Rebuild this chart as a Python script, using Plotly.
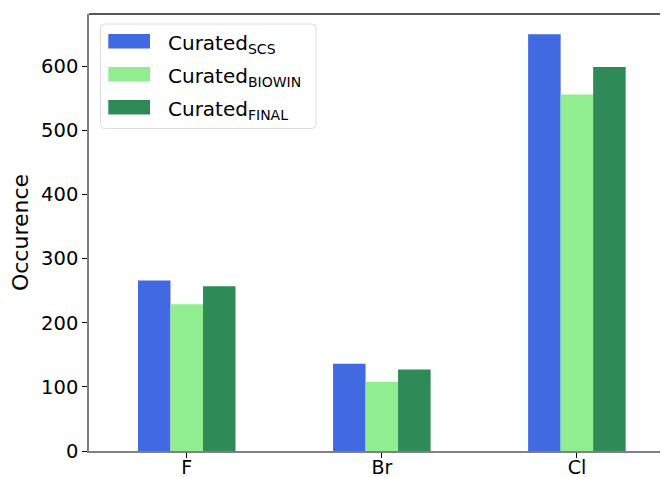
import plotly.graph_objects as go

categories = ["F", "Br", "Cl"]
series_names = ["Curated<sub>SCS</sub>", "Curated<sub>BIOWIN</sub>", "Curated<sub>FINAL</sub>"]
scs = [266, 136, 650]
biowin = [229, 108, 556]
final = [257, 127, 599]
colors = ["#4169E1", "#90EE90", "#2E8B57"]
y_ticks = [0, 100, 200, 300, 400, 500, 600]

# page has an 8px body margin; figure coords = page coords - 8
OFF = 8
W, H = 668 - OFF, 477 - OFF
ML, MT = 89 - OFF, 14 - OFF
PLOT_BOTTOM = 451 - OFF
MB = H - PLOT_BOTTOM
PW, PH = W - ML, PLOT_BOTTOM - MT


def px_x(px):
    return (px - OFF - ML) / PW


def px_y(py):
    return (PLOT_BOTTOM - (py - OFF)) / PH


fig = go.Figure()
for name, vals, col in zip(series_names, [scs, biowin, final], colors):
    fig.add_trace(go.Bar(
        x=categories, y=vals, name=name,
        marker=dict(color=col, line=dict(width=0)),
        showlegend=False,
    ))

fig.update_layout(
    width=W, height=H,
    margin=dict(l=ML, r=0, t=MT, b=MB),
    paper_bgcolor="white", plot_bgcolor="white",
    barmode="group", bargap=0.5, bargroupgap=0,
    font=dict(family="DejaVu Sans", size=19, color="black"),
    showlegend=False,
)
fig.update_xaxes(
    type="category", range=[-0.501, 2.467], automargin=False,
    showline=True, linecolor="#808080", linewidth=1.5, mirror=False,
    ticks="outside", ticklen=5, tickcolor="black", tickwidth=1,
    showgrid=False, zeroline=False,
    tickfont=dict(size=19), ticklabelstandoff=-7,
)
fig.update_yaxes(
    range=[0, 681.6], tickvals=y_ticks, automargin=False,
    showline=True, linecolor="#808080", linewidth=1.5,
    ticks="outside", ticklen=5, tickcolor="black", tickwidth=1,
    showgrid=False, zeroline=False,
    tickfont=dict(size=19.5),
    title=dict(text="Occurence", font=dict(size=22), standoff=8),
)
# top spine
fig.add_shape(type="line", xref="paper", yref="paper", x0=0, x1=1, y0=1, y1=1,
              line=dict(color="#222222", width=1.5))

# legend (matplotlib-style box with wide patches)
bx0, bx1, by0, by1, r = 100.5, 316, 24, 128.5, 4
path = (f"M{px_x(bx0 + r)},{px_y(by0)} L{px_x(bx1 - r)},{px_y(by0)} "
        f"Q{px_x(bx1)},{px_y(by0)} {px_x(bx1)},{px_y(by0 + r)} "
        f"L{px_x(bx1)},{px_y(by1 - r)} Q{px_x(bx1)},{px_y(by1)} {px_x(bx1 - r)},{px_y(by1)} "
        f"L{px_x(bx0 + r)},{px_y(by1)} Q{px_x(bx0)},{px_y(by1)} {px_x(bx0)},{px_y(by1 - r)} "
        f"L{px_x(bx0)},{px_y(by0 + r)} Q{px_x(bx0)},{px_y(by0)} {px_x(bx0 + r)},{px_y(by0)} Z")
fig.add_shape(type="path", xref="paper", yref="paper", path=path,
              fillcolor="rgba(255,255,255,0.8)", line=dict(color="#dcdcdc", width=1))
row_top = [34, 67, 100]
for name, col, top in zip(series_names, colors, row_top):
    fig.add_shape(type="rect", xref="paper", yref="paper",
                  x0=px_x(108.3), x1=px_x(150), y0=px_y(top), y1=px_y(top + 14.5),
                  fillcolor=col, line=dict(width=0))
    fig.add_annotation(xref="paper", yref="paper", x=px_x(166), y=px_y(top + 10),
                       text=name, showarrow=False, xanchor="left", yanchor="middle",
                       font=dict(family="DejaVu Sans", size=20, color="black"))

fig.write_html("out.html")
